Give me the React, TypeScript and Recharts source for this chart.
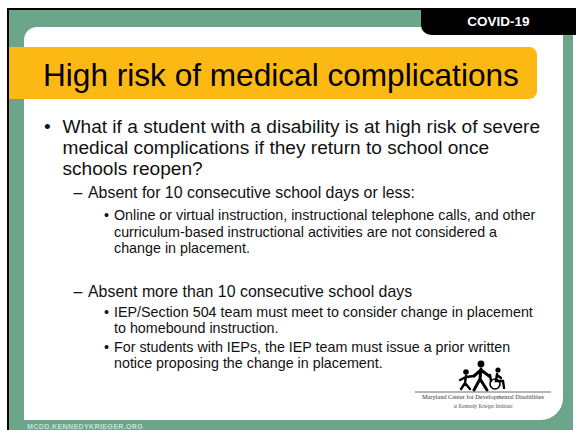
import React from "react";
import { ComposedChart, Customized } from "recharts";

const W = 576;
const H = 430;

const tabLabel = "COVID-19";
const titleText = "High risk of medical complications";
const questionLines = [
  "What if a student with a disability is at high risk of severe",
  "medical complications if they return to school once",
  "schools reopen?",
];
const shortAbsence = "Absent for 10 consecutive school days or less:";
const shortAbsenceNotes = [
  "Online or virtual instruction, instructional telephone calls, and other",
  "curriculum-based instructional activities are not considered a",
  "change in placement.",
];
const longAbsence = "Absent more than 10 consecutive school days";
const longAbsenceNote1 = [
  "IEP/Section 504 team must meet to consider change in placement",
  "to homebound instruction.",
];
const longAbsenceNote2 = [
  "For students with IEPs, the IEP team must issue a prior written",
  "notice proposing the change in placement.",
];
const logoLines = ["Maryland Center for Developmental Disabilities", "at Kennedy Krieger Institute"];
const footerText = "MCDD.KENNEDYKRIEGER.ORG";

const GREEN = "#6ba68b";
const YELLOW = "#fdb913";
const SANS = "'Liberation Sans', Arial, Helvetica, sans-serif";
const SERIF = "'Liberation Serif', 'Times New Roman', serif";

const Lines = ({ lines, x, y0, dy, size, fill = "#111" }: any) => (
  <>
    {lines.map((t: string, i: number) => (
      <text key={i} x={x} y={y0 + i * dy} fontSize={size} fill={fill} fontFamily={SANS}>
        {t}
      </text>
    ))}
  </>
);

const Logo = () => {
  const s = { stroke: "#000", strokeWidth: 3, strokeLinecap: "round" as const, fill: "none" };
  return (
    <g>
      {/* child */}
      <circle cx={466} cy={372} r={2.8} fill="#000" />
      <path d="M466,376 L465,383 M465,383 L461,389 M465,383 L470,389 M466,377 L474,376 M466,377 L460,380" {...s} strokeWidth={2.4} />
      {/* adult */}
      <circle cx={481} cy={364} r={3.4} fill="#000" />
      <path d="M481,369 L480,379 M480,379 L474,390 M480,379 L487,390 M481,370 L474,376 M481,370 L489,376" {...s} />
      {/* wheelchair */}
      <circle cx={498} cy={370} r={2.6} fill="#000" />
      <path d="M497,374 L496,381 L503,381 L504,388 M497,375 L501,378 M490,375 L491,381" {...s} strokeWidth={2.4} />
      <circle cx={495} cy={384} r={5} fill="none" stroke="#000" strokeWidth={1.6} />
      <line x1={415} y1={392} x2={551} y2={392} stroke="#444" strokeWidth={0.8} />
      <text x={483} y={399} fontSize={6.3} fill="#333" fontFamily={SERIF} textAnchor="middle">
        {logoLines[0]}
      </text>
      <text x={483} y={407.5} fontSize={5.2} fill="#555" fontFamily={SERIF} textAnchor="middle">
        {logoLines[1]}
      </text>
    </g>
  );
};

const Slide = () => (
  <g>
    <rect x={0} y={0} width={W} height={H} fill="#fff" />
    <rect x={7} y={8} width={566} height={H - 8} fill="#000" />
    <rect x={9} y={10} width={564} height={H - 10} fill={GREEN} />
    <path d="M24,40 A13,13 0 0 1 37,27 L563,27 L563,398 A22,22 0 0 1 541,420 L24,420 Z" fill="#fff" />
    <path d="M421,8 L576,8 L576,35 L431,35 A10,10 0 0 1 421,25 Z" fill="#000" />
    <text x={498.5} y={26} fontSize={13.5} fontWeight="bold" fill="#fff" fontFamily={SANS} textAnchor="middle">
      {tabLabel}
    </text>
    <path d="M9,47 L529,47 A8,8 0 0 1 537,55 L537,91 A8,8 0 0 1 529,99 L9,99 Z" fill={YELLOW} />
    <text x={43} y={86} fontSize={31.6} fill="#000" fontFamily={SANS}>
      {titleText}
    </text>

    <text x={44} y={132.7} fontSize={19.1} fill="#111" fontFamily={SANS}>•</text>
    <Lines lines={questionLines} x={62.5} y0={132.7} dy={21.2} size={19.1} />

    <text x={73.5} y={198.3} fontSize={15.9} fill="#111" fontFamily={SANS}>–</text>
    <Lines lines={[shortAbsence]} x={88} y0={198.3} dy={0} size={15.9} />

    <text x={104} y={220} fontSize={14.3} fill="#111" fontFamily={SANS}>•</text>
    <Lines lines={shortAbsenceNotes} x={114} y0={220} dy={16.7} size={14.3} />

    <text x={73.5} y={296.7} fontSize={15.9} fill="#111" fontFamily={SANS}>–</text>
    <Lines lines={[longAbsence]} x={88} y0={296.7} dy={0} size={15.9} />

    <text x={104} y={316.7} fontSize={14.3} fill="#111" fontFamily={SANS}>•</text>
    <Lines lines={longAbsenceNote1} x={114} y0={316.7} dy={16} size={14.3} />

    <text x={104} y={351.7} fontSize={14.3} fill="#111" fontFamily={SANS}>•</text>
    <Lines lines={longAbsenceNote2} x={114} y0={351.7} dy={15.8} size={14.3} />

    <Logo />

    <text x={27} y={429} fontSize={7} fontWeight="bold" fill="#d8ebe1" fillOpacity={0.85} fontFamily={SANS} letterSpacing={0.4}>
      {footerText}
    </text>
  </g>
);

export default function App() {
  const data = questionLines.map((t, i) => ({ i, t }));
  return (
    <div style={{ position: "absolute", left: 0, top: 0, width: W, height: H }}>
      <ComposedChart width={W} height={H} data={data} margin={{ top: 0, right: 0, bottom: 0, left: 0 }}>
        <Customized component={<Slide />} />
      </ComposedChart>
    </div>
  );
}
